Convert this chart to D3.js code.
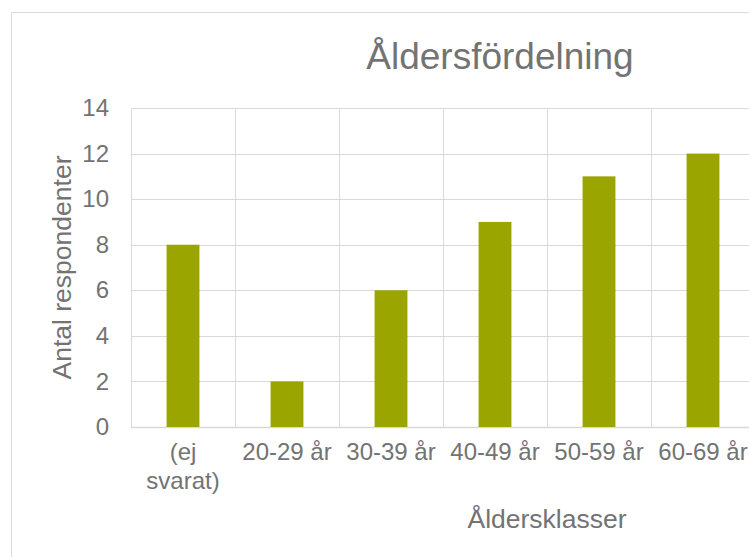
<!DOCTYPE html>
<html>
<head>
<meta charset="utf-8">
<script src="https://cdn.jsdelivr.net/npm/d3@7/dist/d3.min.js"></script>
<style>
  html, body { margin: 0; padding: 0; background: #ffffff; }
  svg { display: block; }
  text { font-family: "Liberation Sans", Arial, sans-serif; fill: #737373; }
</style>
</head>
<body>
<script>
// Age distribution of respondents
const categories = ["(ej svarat)", "20-29 år", "30-39 år", "40-49 år", "50-59 år", "60-69 år"];
const respondents = [8, 2, 6, 9, 11, 12];
const yTicks = [0, 2, 4, 6, 8, 10, 12, 14];
const chartTitle = "Åldersfördelning";
const xTitle = "Åldersklasser";
const yTitle = "Antal respondenter";

const W = 749, H = 557;
const plot = { left: 131, right: 755, top: 108, bottom: 427 };
const gridColor = "#d9d9d9";
const barColor = "#9ba500";
const textColor = "#737373";

const svg = d3.select("body").append("svg")
  .attr("width", W).attr("height", H);

// chart frame
svg.append("rect")
  .attr("x", 11.5).attr("y", 12.5)
  .attr("width", 1000).attr("height", 1000)
  .attr("fill", "none").attr("stroke", gridColor).attr("stroke-width", 1);

const x = d3.scaleBand().domain(categories)
  .range([plot.left, plot.right]).paddingInner(0).paddingOuter(0);
const y = d3.scaleLinear().domain([0, 14]).range([plot.bottom, plot.top]);

// horizontal gridlines
svg.append("g").selectAll("line").data(yTicks).join("line")
  .attr("x1", plot.left).attr("x2", plot.right)
  .attr("y1", d => Math.round(y(d)) + 0.5).attr("y2", d => Math.round(y(d)) + 0.5)
  .attr("stroke", gridColor).attr("stroke-width", d => d === 0 ? 1.5 : 1);

// vertical gridlines at category boundaries
const bounds = categories.map(c => x(c)).concat([x(categories[categories.length - 1]) + x.bandwidth()]);
svg.append("g").selectAll("line").data(bounds).join("line")
  .attr("x1", d => Math.round(d) + 0.5).attr("x2", d => Math.round(d) + 0.5)
  .attr("y1", plot.top).attr("y2", plot.bottom)
  .attr("stroke", gridColor).attr("stroke-width", 1);

// bars
const barW = x.bandwidth() * 0.316;
svg.append("g").selectAll("rect").data(categories).join("rect")
  .attr("x", (d) => x(d) + (x.bandwidth() - barW) / 2)
  .attr("width", barW)
  .attr("y", (d, i) => y(respondents[i]))
  .attr("height", (d, i) => y(0) - y(respondents[i]))
  .attr("fill", barColor);

// y axis tick labels
const yAxis = d3.axisLeft(y).tickValues(yTicks).tickSize(0).tickPadding(0);
const gy = svg.append("g").attr("transform", `translate(${plot.left - 22},0)`).call(yAxis);
gy.select(".domain").remove();
gy.selectAll("text").style("font-size", "24px").attr("fill", textColor)
  .style("font-family", '"Liberation Sans", Arial, sans-serif');

// x axis tick labels, wrapped to the band width
const xAxis = d3.axisBottom(x).tickSize(0).tickPadding(0);
const gx = svg.append("g").attr("transform", `translate(0,${plot.bottom})`).call(xAxis);
gx.select(".domain").remove();
gx.selectAll("text").each(function(d) {
  const t = d3.select(this);
  t.text(null).attr("y", 0).attr("dy", null)
    .style("font-size", "24px").attr("fill", textColor)
    .style("font-family", '"Liberation Sans", Arial, sans-serif');
  const lines = d === "(ej svarat)" ? ["(ej", "svarat)"] : [d];
  lines.forEach((ln, i) => {
    t.append("tspan").attr("x", 0).attr("y", 33 + i * 29).text(ln);
  });
});

// chart title
svg.append("text")
  .attr("x", 500).attr("y", 69)
  .attr("text-anchor", "middle")
  .style("font-size", "37px")
  .text(chartTitle);

// axis titles
svg.append("text")
  .attr("x", 547).attr("y", 528)
  .attr("text-anchor", "middle")
  .style("font-size", "26.5px")
  .text(xTitle);

svg.append("text")
  .attr("transform", `translate(71,${(155 + 380) / 2}) rotate(-90)`)
  .attr("text-anchor", "middle")
  .style("font-size", "26.5px")
  .text(yTitle);
</script>
</body>
</html>
